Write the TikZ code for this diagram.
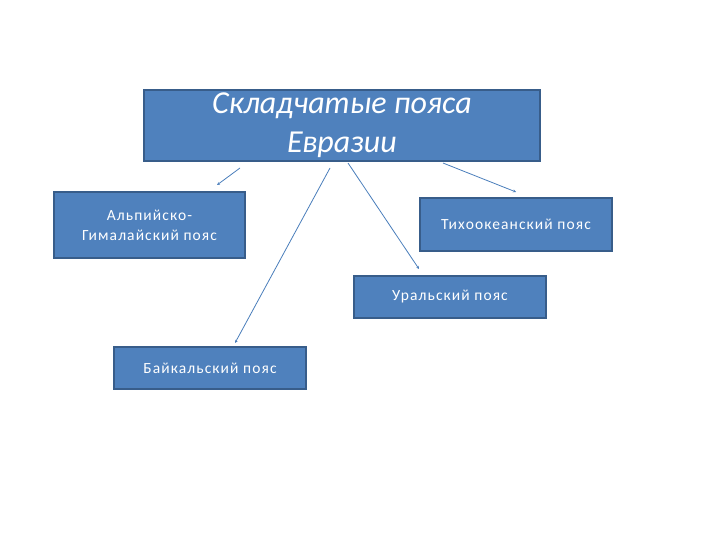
\documentclass[tikz,border=0pt]{standalone}
\usepackage{fontspec}
\setmainfont{Carlito}
\usetikzlibrary{arrows.meta}
\definecolor{boxfill}{HTML}{4F81BD}
\definecolor{boxline}{HTML}{385D8A}
\definecolor{linkcol}{HTML}{4A7EBB}
\begin{document}
\begin{tikzpicture}[x=1pt,y=-1pt,
  belt/.style={draw=boxline,line width=1.3pt,fill=boxfill,text=white,
    align=center,inner sep=2pt,
    font=\fontsize{15.5}{20}\selectfont\addfontfeatures{LetterSpace=7}},
  link/.style={draw=linkcol,line width=0.8pt,-{Stealth[length=3pt,width=3pt]}}]

\useasboundingbox (0,0) rectangle (720,540);

\node[belt,minimum width=396pt,minimum height=71pt,
  font=\itshape\fontsize{32}{39}\selectfont] (main) at (342,125.5)
  {\raisebox{-2pt}{Складчатые пояса}\\\raisebox{-2pt}{Евразии}};

\node[belt,minimum width=191pt,minimum height=66pt] (alp) at (149.5,225) {Альпийско-\\Гималайский пояс};
\node[belt,minimum width=192pt,minimum height=53pt] (pac) at (516,224.5) {Тихоокеанский пояс};
\node[belt,minimum width=192pt,minimum height=42pt] (ural) at (450,297) {Уральский пояс};
\node[belt,minimum width=192pt,minimum height=42pt] (baik) at (210,368) {Байкальский пояс};

\coordinate (s1) at (240,168);
\coordinate (e1) at (217,185);
\coordinate (s2) at (330,168);
\coordinate (e2) at (235,343);
\coordinate (s3) at (348,163);
\coordinate (e3) at (419,269);
\coordinate (s4) at (443,163);
\coordinate (e4) at (516,192);

\draw[link] (s1) -- (e1);
\draw[link] (s2) -- (e2);
\draw[link] (s3) -- (e3);
\draw[link] (s4) -- (e4);

\end{tikzpicture}
\end{document}
